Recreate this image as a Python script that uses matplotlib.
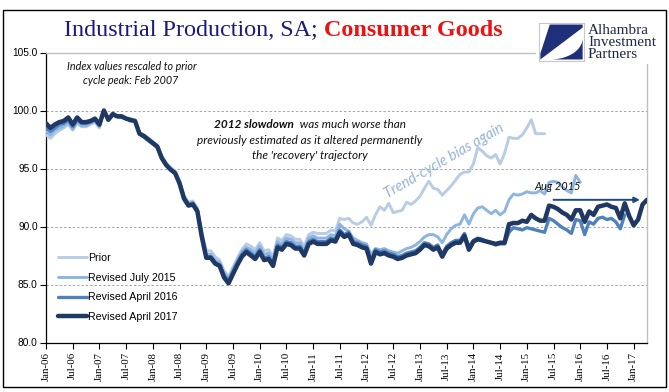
import matplotlib
matplotlib.use("Agg")
import matplotlib.pyplot as plt
from matplotlib.patches import Polygon, Rectangle
import numpy as np

# ---------------- data (index, Feb 2007 = 100), monthly from Jan-2006 ----------------
prior = [
    97.9, 97.6, 98.0, 98.3, 98.5, 98.8, 98.3, 98.9, 98.6, 98.6, 98.8, 99.0,
    98.5, 100.0, 99.2, 99.6, 99.4, 99.4, 99.3, 99.1, 99.1, 98.1, 97.9, 97.6,
    97.3, 97.0, 96.1, 95.5, 95.1, 94.8, 94.0, 92.7, 92.1, 92.2, 91.6, 89.6,
    87.9, 87.9, 87.4, 87.1, 86.2, 85.7, 86.5, 87.3, 88.0, 88.5, 88.3, 88.0,
    88.6, 87.9, 88.0, 87.4, 89.0, 88.8, 89.3, 89.2, 88.9, 88.9, 88.3, 89.3,
    89.5, 89.4, 89.4, 89.4, 89.7, 89.6, 90.7, 90.6, 90.7, 90.3, 90.2, 90.4,
    90.8, 90.1, 91.0, 91.7, 91.4, 92.0, 91.2, 91.3, 91.4, 92.1, 91.9, 92.2,
    92.6, 93.3, 93.9, 93.3, 93.2, 92.7, 93.1, 93.5, 94.0, 94.5, 94.7, 94.7,
    95.4, 96.8, 96.5, 96.1, 95.9, 96.2, 95.4, 96.3, 97.7, 97.6, 97.6, 97.9,
    98.5, 99.2, 98.0, 98.0, 98.0,
]
rev_jul2015 = [
    98.2, 97.9, 98.3, 98.5, 98.7, 99.0, 98.4, 99.0, 98.7, 98.7, 98.9, 99.1,
    98.6, 100.0, 99.2, 99.6, 99.5, 99.4, 99.3, 99.1, 99.1, 98.0, 97.8, 97.5,
    97.2, 96.9, 96.0, 95.4, 95.0, 94.7, 93.9, 92.6, 92.0, 92.1, 91.5, 89.4,
    87.6, 87.6, 87.1, 86.9, 86.0, 85.5, 86.3, 87.1, 87.8, 88.2, 88.0, 87.7,
    88.3, 87.6, 87.7, 87.1, 88.7, 88.5, 89.0, 88.9, 88.6, 88.6, 88.0, 89.0,
    89.2, 89.0, 89.0, 89.0, 89.3, 89.2, 90.2, 89.8, 89.6, 89.0, 88.8, 88.6,
    88.5, 87.6, 88.1, 88.0, 88.1, 87.9, 87.8, 87.7, 87.9, 88.1, 88.2, 88.4,
    88.7, 89.1, 89.3, 89.3, 89.1, 88.6, 89.3, 89.8, 90.1, 90.2, 91.0, 90.2,
    91.1, 91.6, 91.7, 91.4, 91.1, 91.4, 91.0, 91.3, 92.3, 92.8, 92.7, 92.8,
    93.0, 92.9, 92.9, 93.1, 92.8, 93.8, 93.9, 93.8, 93.4, 93.1, 92.9, 94.4,
    93.8,
]
rev_apr2016 = [
    98.5, 98.2, 98.5, 98.8, 98.9, 99.2, 98.6, 99.2, 98.9, 98.9, 99.0, 99.2,
    98.7, 100.0, 99.2, 99.6, 99.5, 99.4, 99.3, 99.1, 99.1, 98.0, 97.7, 97.4,
    97.1, 96.8, 95.9, 95.3, 94.9, 94.6, 93.8, 92.5, 91.9, 92.0, 91.4, 89.2,
    87.4, 87.4, 86.9, 86.7, 85.8, 85.3, 86.1, 86.9, 87.6, 88.0, 87.7, 87.4,
    88.0, 87.3, 87.4, 86.8, 88.4, 88.2, 88.7, 88.6, 88.3, 88.3, 87.7, 88.7,
    88.9, 88.7, 88.7, 88.7, 89.0, 88.9, 89.7, 89.3, 89.5, 88.7, 88.6, 88.4,
    88.3, 87.0, 88.0, 87.8, 87.9, 87.7, 87.6, 87.4, 87.5, 87.7, 87.8, 87.9,
    88.2, 88.6, 88.5, 88.2, 88.4, 87.6, 88.3, 88.6, 88.8, 88.8, 89.4, 88.2,
    88.8, 89.0, 88.9, 88.7, 88.6, 88.4, 88.5, 88.5, 89.5, 89.9, 89.8, 89.7,
    89.9, 89.8, 89.7, 89.6, 89.5, 90.7, 90.5, 90.2, 89.9, 89.7, 89.4, 90.6,
    90.5, 89.3, 90.4, 90.2, 90.7, 90.8, 90.6, 90.7, 90.4, 89.8, 91.0,
]
rev_apr2017 = [
    98.9, 98.5, 98.8, 99.0, 99.1, 99.4, 98.8, 99.4, 99.0, 99.0, 99.1, 99.3,
    98.8, 100.0, 99.2, 99.7, 99.5, 99.5, 99.3, 99.2, 99.1, 98.0, 97.8, 97.5,
    97.2, 96.9, 95.9, 95.3, 94.9, 94.6, 93.7, 92.4, 91.8, 91.9, 91.3, 89.1,
    87.3, 87.3, 86.8, 86.6, 85.6, 85.1, 85.9, 86.7, 87.4, 87.8, 87.5, 87.2,
    87.8, 87.1, 87.2, 86.6, 88.2, 88.0, 88.5, 88.4, 88.1, 88.1, 87.5, 88.5,
    88.7, 88.5, 88.5, 88.5, 88.8, 88.7, 89.5, 89.1, 89.3, 88.5, 88.4, 88.2,
    88.1, 86.8, 87.8, 87.6, 87.7, 87.5, 87.4, 87.2, 87.3, 87.5, 87.6, 87.7,
    88.0, 88.4, 88.3, 88.0, 88.2, 87.4, 88.1, 88.4, 88.6, 88.6, 89.2, 88.0,
    88.7, 88.9, 88.8, 88.7, 88.6, 88.5, 88.6, 88.6, 90.2, 90.3, 90.3, 90.5,
    90.4, 91.0, 90.7, 90.5, 90.5, 91.8, 91.7, 91.5, 91.2, 91.0, 90.6, 91.4,
    91.4, 90.4, 91.3, 91.0, 91.7, 91.8, 91.9, 91.7, 91.6, 90.7, 92.0, 90.9,
    90.1, 90.6, 91.9, 92.3,
]
series_names = ["Prior", "Revised July 2015", "Revised April 2016", "Revised April 2017"]
tick_labels = ["Jan-06", "Jul-06", "Jan-07", "Jul-07", "Jan-08", "Jul-08", "Jan-09", "Jul-09",
               "Jan-10", "Jul-10", "Jan-11", "Jul-11", "Jan-12", "Jul-12", "Jan-13", "Jul-13",
               "Jan-14", "Jul-14", "Jan-15", "Jul-15", "Jan-16", "Jul-16", "Jan-17"]
y_ticks = [80, 85, 90, 95, 100, 105]

# ---------------- figure ----------------
W, H = 669, 392
fig = plt.figure(figsize=(W / 100, H / 100), dpi=100)
fig.patch.set_facecolor("white")


def fx(x):
    return x / W


def fy(y):
    return 1 - y / H


ax = fig.add_axes([fx(46), fy(342.5), (647 - 46) / W, (342.5 - 52.5) / H])
colors = ["#b8cce4", "#8db4e2", "#4f81bd", "#1f3864"]
widths = [2.1, 2.1, 2.4, 3.2]
for vals, c, lw, name in zip([prior, rev_jul2015, rev_apr2016, rev_apr2017], colors, widths, series_names):
    ax.plot(np.arange(len(vals)), vals, color=c, lw=lw, label=name,
            solid_joinstyle="round", solid_capstyle="round", zorder=3)

ax.set_xlim(0, len(rev_apr2017) - 1)
ax.set_ylim(y_ticks[0], y_ticks[-1])
ax.set_yticks(y_ticks)
ax.set_yticklabels([f"{v:.1f}" for v in y_ticks], fontsize=7.3, family="Liberation Sans")
ax.set_xticks(np.arange(len(tick_labels)) * 6)
ax.set_xticklabels(tick_labels, rotation=90, fontsize=7.8, family="Liberation Serif")
ax.tick_params(axis="y", direction="out", length=4, width=0.8, pad=2)
ax.tick_params(axis="x", direction="out", length=4, width=0.8, pad=3)
ax.yaxis.grid(True, color="#a6a6a6", lw=0.7, ls=(0, (2.5, 2)))
ax.set_axisbelow(True)
for s in ["left", "bottom"]:
    ax.spines[s].set_color("black")
    ax.spines[s].set_linewidth(0.9)
for s in ["top", "right"]:
    ax.spines[s].set_color("#c0c0c0")
    ax.spines[s].set_linewidth(1.0)

# legend
ax.legend(loc="upper left", bbox_to_anchor=(fx(58), fy(253)), bbox_transform=fig.transFigure,
          frameon=False, prop={"family": "Liberation Sans", "size": 7.7},
          handlelength=2.7, handletextpad=0.1, labelspacing=0.9, borderpad=0, borderaxespad=0)

# outer border
fig.patches.append(Rectangle((fx(3), fy(387)), (666 - 3) / W, (387 - 10) / H,
                             transform=fig.transFigure, fill=False, ec="black", lw=1.0, zorder=10))

fig.canvas.draw()
R = fig.canvas.get_renderer()


def width_of(t):
    return t.get_window_extent(R).width


def fit(t, target):
    w = width_of(t)
    t.set_fontsize(t.get_fontsize() * target / w)


# title
t1 = fig.text(fx(64), fy(36.5), "Industrial Production, SA;", fontsize=17,
              family="Liberation Serif", color="#1a1a80", va="baseline", ha="left")
t2 = fig.text(fx(300), fy(36.5), "Consumer Goods", fontsize=17, family="Liberation Serif",
              weight="bold", color="#ee1111", va="baseline", ha="left")
w1, w2 = width_of(t1), width_of(t2)
scale = (503 - 64 - 5) / (w1 + w2)
t1.set_fontsize(17 * scale)
t2.set_fontsize(17 * scale)
t2.set_x(fx(64 + width_of(t1) + 6))

# logo
lax = fig.add_axes([fx(536), fy(64), (663 - 536) / W, (64 - 14) / H], zorder=5)
lax.set_facecolor("white")
lax.set_xticks([])
lax.set_yticks([])
for s in lax.spines.values():
    s.set_visible(False)
iax = fig.add_axes([fx(539), fy(61), 45 / W, 38 / H], zorder=6)
iax.set_xlim(0, 1)
iax.set_ylim(0, 1)
iax.set_xticks([])
iax.set_yticks([])
for s in iax.spines.values():
    s.set_color("#c8c8c8")
    s.set_linewidth(0.8)
navy = "#1f2f7a"
iax.add_patch(Polygon([(0.24, 0.96), (0.97, 0.96), (0.97, 0.88), (0.03, 0.04), (0.03, 0.20)],
                      closed=True, fc=navy, ec="none"))
th = np.linspace(0, np.pi / 2, 30)
iax.add_patch(Polygon([(0.25, 0.04), (0.97, 0.04), (0.97, 0.60)] +
                      [(0.97 - 0.72 * (1 - np.cos(a)), 0.60 - 0.56 * np.sin(a)) for a in th],
                      closed=True, fc=navy, ec="none"))
for txt, yy in [("Alhambra", 30), ("Investment", 42.5), ("Partners", 55)]:
    fig.text(fx(588), fy(yy), txt, fontsize=11, family="Liberation Serif", color="#1c2a4a",
             va="center", ha="left", zorder=7)

# note top-left
n1 = fig.text(fx(131.5), fy(67), "Index values rescaled to prior", family="Lato", style="italic",
              fontsize=7.3, ha="center", va="center", color="#111111")
fit(n1, 130)
fig.text(fx(131), fy(81), "cycle peak: Feb 2007", family="Lato", style="italic",
         fontsize=n1.get_fontsize(), ha="center", va="center", color="#111111")

# slowdown note
l2 = fig.text(fx(310), fy(140.5), "previously estimated as it altered permanently", family="Lato",
              style="italic", fontsize=8, ha="center", va="center", color="#111111")
fit(l2, 226)
fs = l2.get_fontsize()
fig.text(fx(309.5), fy(155.5), "the 'recovery' trajectory", family="Lato", style="italic",
         fontsize=fs, ha="center", va="center", color="#111111")
b1 = fig.text(0, fy(124.5), "2012 slowdown", family="Lato", style="italic", weight="bold",
              fontsize=fs, ha="left", va="center", color="#111111")
r1 = fig.text(0, fy(124.5), " was much worse than", family="Lato", style="italic",
              fontsize=fs, ha="left", va="center", color="#111111")
wb, wr = width_of(b1), width_of(r1)
x0 = 310 - (wb + wr + 3) / 2
b1.set_x(fx(x0))
r1.set_x(fx(x0 + wb + 3))

# trend-cycle note
tc = fig.text(fx(444), fy(161), "Trend-cycle bias again", family="Lato", style="italic",
              fontsize=9, ha="center", va="center", color="#95b3d7")
fit(tc, 136)
tc.set_rotation(30)
tc.set_rotation_mode("anchor")

# Aug 2015 arrow
ag = fig.text(fx(558), fy(187), "Aug 2015", family="Lato", style="italic", fontsize=8.3,
              ha="center", va="center", color="#111111")
fit(ag, 46)
ax.annotate("", xy=(133.4, 92.3), xytext=(114, 92.3),
            arrowprops=dict(arrowstyle="-|>", color="#1f497d", lw=1.4, mutation_scale=8,
                            shrinkA=0, shrinkB=0), zorder=4)

fig.savefig("out.png", dpi=100)
